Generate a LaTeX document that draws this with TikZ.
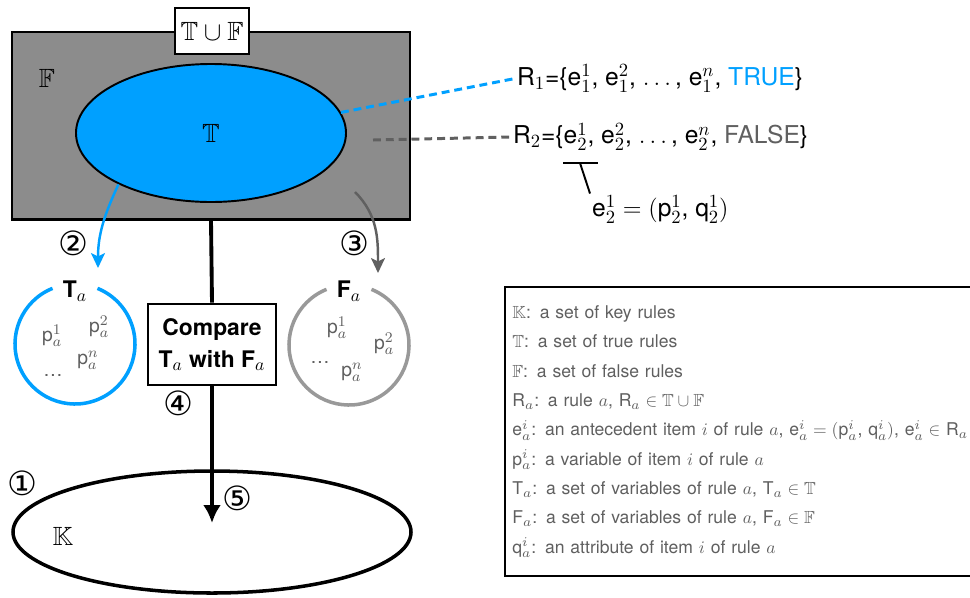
\RequirePackage{fix-cm}
\documentclass[tikz,border=0pt]{standalone}
\usepackage{amssymb}
\usepackage[no-math]{fontspec}
\setmainfont{TeX Gyre Heros}
\newfontfamily\circfont{DejaVu Sans}
\usetikzlibrary{positioning,shapes.geometric,arrows.meta}
\definecolor{figBleu}{RGB}{0,160,255}
\definecolor{figGrisFond}{RGB}{140,140,140}
\definecolor{figGrisFonce}{RGB}{96,96,96}
\definecolor{figGrisClair}{RGB}{153,153,153}
\definecolor{figGrisTexte}{RGB}{95,95,95}
\DeclareMathSizes{10}{10}{7.6}{6}
\DeclareMathSizes{11}{11}{8.4}{6.5}
\DeclareMathSizes{13}{13}{10}{8}
\DeclareMathSizes{14}{14}{10.6}{8.5}

\begin{document}
\begin{tikzpicture}[
  x=1cm, y=1cm, every node/.style={font=\fontsize{14}{16}\selectfont},
  bb/.style={font=\fontsize{15}{18}\selectfont},
  num/.style={font=\circfont\fontsize{19}{20}\selectfont, inner sep=0pt},
  var/.style={text=figGrisTexte, font=\fontsize{11}{13}\selectfont},
  lbl/.style={font=\bfseries\fontsize{13}{18}\selectfont},
  ring/.style={circle, minimum size=2.4cm, outer sep=0pt},
  fl/.style={-{Stealth[length=0.3cm,width=0.28cm,inset=0.07cm]}, line width=1.4pt},
  tiret/.style={line width=1.7pt, dash pattern=on 4.5pt off 2.8pt}
]
\useasboundingbox (0,0) rectangle (19.4,-11.94);

% Ensembles F et T, puis le cadre T u F au-dessus.
\node[draw, line width=1.7pt, fill=figGrisFond, minimum width=7.96cm,
      minimum height=3.74cm] (fset) at (4.22,-2.51) {};
\node[draw, line width=1.1pt, fill=white, minimum width=1.48cm,
      minimum height=0.92cm, bb] (union) at (4.24,-0.62) {$\mathbb{T}\cup\mathbb{F}$};
\node[bb] (flbl) at (0.94,-1.56) {$\mathbb{F}$};
\node[draw, ellipse, line width=1.1pt, fill=figBleu, minimum width=5.4cm,
      minimum height=2.76cm, bb] (tset) at (4.22,-2.66) {$\mathbb{T}$};

\node[anchor=west, inner sep=1pt] (rone) at (10.3,-1.57)
  {R$_1$=\{e$^1_1$, e$^2_1$, $.\,.\,.$\,, e$^n_1$, \textcolor{figBleu}{TRUE}\}};
\node[anchor=west, inner sep=1pt] (rtwo) at (10.22,-2.74)
  {R$_2$=\{e$^1_2$, e$^2_2$, $.\,.\,.$\,, e$^n_2$, \textcolor{figGrisFonce}{FALSE}\}};
\node[anchor=north west, inner sep=1pt] (eqn) at (11.8,-3.87)
  {e$^1_2 = ($p$^1_2$, q$^1_2)$};

\coordinate (fpt) at (7.46,-2.8);
\coordinate (brk) at (11.6,-3.26);
\draw[tiret, figBleu] (tset.9) -- (rone.west);
\draw[tiret, figGrisFonce] (fpt) -- (rtwo.west);
\draw[line width=1.1pt] ([xshift=-0.34cm]brk) -- ([xshift=0.36cm]brk);
\draw[line width=1.1pt] (brk) -- (eqn.north west);

% T_a et F_a
\node[lbl] (talbl) at (1.5,-5.82) {T$_a$};
\node[ring] (tacirc) at (1.5,-6.88) {};
\draw[figBleu, line width=2pt] ([shift={(112:1.2)}]tacirc.center)
  arc[start angle=112, end angle=428, radius=1.2];
\node[var] (tp1) at (1.04,-6.72) {p$^1_a$};
\node[var] (tp2) at (1.98,-6.54) {p$^2_a$};
\node[var] (tpn) at (1.76,-7.2) {p$^n_a$};
\node[var] (tdots) at (1.06,-7.5) {\ldots};

\node[lbl] (falbl) at (6.98,-5.82) {F$_a$};
\node[ring] (facirc) at (6.98,-6.9) {};
\draw[figGrisClair, line width=2pt] ([shift={(112:1.2)}]facirc.center)
  arc[start angle=112, end angle=428, radius=1.2];
\node[var] (fp1) at (6.74,-6.56) {p$^1_a$};
\node[var] (fp2) at (7.68,-6.88) {p$^2_a$};
\node[var] (fdots) at (6.4,-7.24) {\ldots};
\node[var] (fpn) at (7.04,-7.44) {p$^n_a$};

\coordinate (tatip) at (1.96,-5.36);
\coordinate (fsrc) at (7.1,-3.84);
\coordinate (fatip) at (7.56,-5.46);
\draw[fl, figBleu] (tset.209) to[out=245, in=90] (tatip);
\draw[fl, figGrisFonce] (fsrc) to[out=-45, in=90] (fatip);

\node[draw, line width=1.5pt, fill=white, minimum width=2.56cm, minimum height=1.62cm,
      align=center, lbl] (cmp) at (4.24,-6.89) {Compare\\T$_a$ with F$_a$};
\node[draw, ellipse, line width=2pt, minimum width=7.96cm,
      minimum height=2.44cm] (kset) at (4.24,-10.64) {};
\node[bb] (klbl) at (1.26,-10.72) {$\mathbb{K}$};

\draw[line width=2.2pt] (fset.south) -- (cmp.north);
\draw[line width=2.2pt, -{Latex[length=0.36cm,width=0.36cm]}, shorten >=0.18cm]
  (cmp.south) -- (kset.center);

\node[num] (n1) at (0.44,-9.66) {①};
\node[num] (n2) at (1.46,-4.86) {②};
\node[num] (n3) at (7.08,-4.86) {③};
\node[num] (n4) at (3.56,-8.06) {④};
\node[num] (n5) at (4.74,-9.96) {⑤};

\node[draw, line width=1.1pt, anchor=north west, minimum width=9.6cm, minimum height=5.78cm,
      text width=9.3cm, inner xsep=0.12cm, align=left, text=figGrisTexte,
      font=\fontsize{10}{16.7}\selectfont] (legend) at (10.08,-5.72)
  {$\mathbb{K}$: a set of key rules\\
   $\mathbb{T}$: a set of true rules\\
   $\mathbb{F}$: a set of false rules\\
   R$_a$: a rule $a$, R$_a \in \mathbb{T}\cup\mathbb{F}$\\
   e$^i_a$: an antecedent item $i$ of rule $a$, e$^i_a = ($p$^i_a$, q$^i_a)$, e$^i_a \in$ R$_a$\\
   p$^i_a$: a variable of item $i$ of rule $a$\\
   T$_a$: a set of variables of rule $a$, T$_a \in \mathbb{T}$\\
   F$_a$: a set of variables of rule $a$, F$_a \in \mathbb{F}$\\
   q$^i_a$: an attribute of item $i$ of rule $a$};
\end{tikzpicture}
\end{document}
